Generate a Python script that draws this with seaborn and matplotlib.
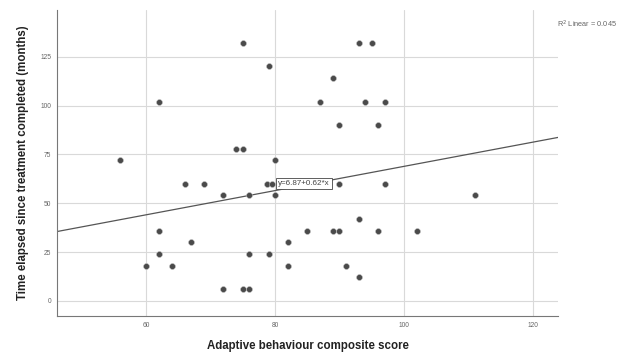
import numpy as np
import pandas as pd
import seaborn as sns
import matplotlib.pyplot as plt

# adaptive behaviour composite score vs months since treatment completed
abc_score = [75, 79, 62, 74, 75, 56, 80, 93, 95, 89, 87, 94, 97, 90, 96,
             66, 69, 72, 76, 78.8, 79.5, 80, 62, 67, 62, 76, 79, 60, 64,
             72, 75, 76, 82, 82, 85, 90, 97, 111, 93, 89, 90, 96, 102, 91, 93]
months = [132, 120, 102, 78, 78, 72, 72, 132, 132, 114, 102, 102, 102, 90, 90,
          60, 60, 54, 54, 60, 60, 54, 36, 30, 24, 24, 24, 18, 18,
          6, 6, 6, 30, 18, 36, 60, 60, 54, 42, 36, 36, 36, 36, 18, 12]

fit_intercept = 6.87
fit_slope = 0.62
r2_linear = 0.045

x_ticks = [60, 80, 100, 120]
y_ticks = [0, 25, 50, 75, 100, 125]

df = pd.DataFrame({'score': abc_score, 'months': months})

sns.set_style('white')
plt.rcParams['font.family'] = ['Liberation Sans', 'DejaVu Sans']

fig = plt.figure(figsize=(6.18, 3.52), dpi=100)
ax = fig.add_axes([0.0922, 0.1023, 0.8108, 0.8693])

xlim = (46.2, 123.9)
ylim = (-7.7, 148.9)

# grid lines
for t in x_ticks:
    ax.axvline(t, color='#d9d9d9', lw=0.8, zorder=0)
for t in y_ticks:
    ax.axhline(t, color='#d9d9d9', lw=0.8, zorder=0)

# fit line across the whole axis range
fit_x = np.array(xlim)
fit_df = pd.DataFrame({'x': fit_x, 'y': fit_intercept + fit_slope * fit_x})
sns.lineplot(data=fit_df, x='x', y='y', ax=ax, color='#555555', lw=0.9, zorder=2)

sns.scatterplot(data=df, x='score', y='months', ax=ax, color='#4a4a4a',
                s=18, edgecolor='#bbbbbb', linewidth=0.4, zorder=3)

ax.text(80.5, 60, f'y={fit_intercept:.2f}+{fit_slope:.2f}*x', fontsize=5.8,
        va='center', ha='left', color='#444444', zorder=4,
        bbox=dict(boxstyle='square,pad=0.25', fc='white', ec='#444444', lw=0.6))

ax.set_xlim(*xlim)
ax.set_ylim(*ylim)
ax.set_xticks(x_ticks)
ax.set_yticks(y_ticks)
ax.tick_params(axis='both', length=0, labelsize=4.8, labelcolor='#666666', pad=4)
for s in ['top', 'right']:
    ax.spines[s].set_visible(False)
for s in ['left', 'bottom']:
    ax.spines[s].set_color('#777777')
    ax.spines[s].set_linewidth(0.8)

ax.set_xlabel('Adaptive behaviour composite score', fontsize=8.3,
              fontweight='bold', color='#222222', labelpad=8)
ax.set_ylabel('Time elapsed since treatment completed (months)', fontsize=8.3,
              fontweight='bold', color='#222222', labelpad=8)

fig.text(0.901, 0.93, f'R$^2$ Linear = {r2_linear:.3f}', fontsize=5.3,
         color='#666666', ha='left', va='center')

fig.savefig('out.png', dpi=100)
